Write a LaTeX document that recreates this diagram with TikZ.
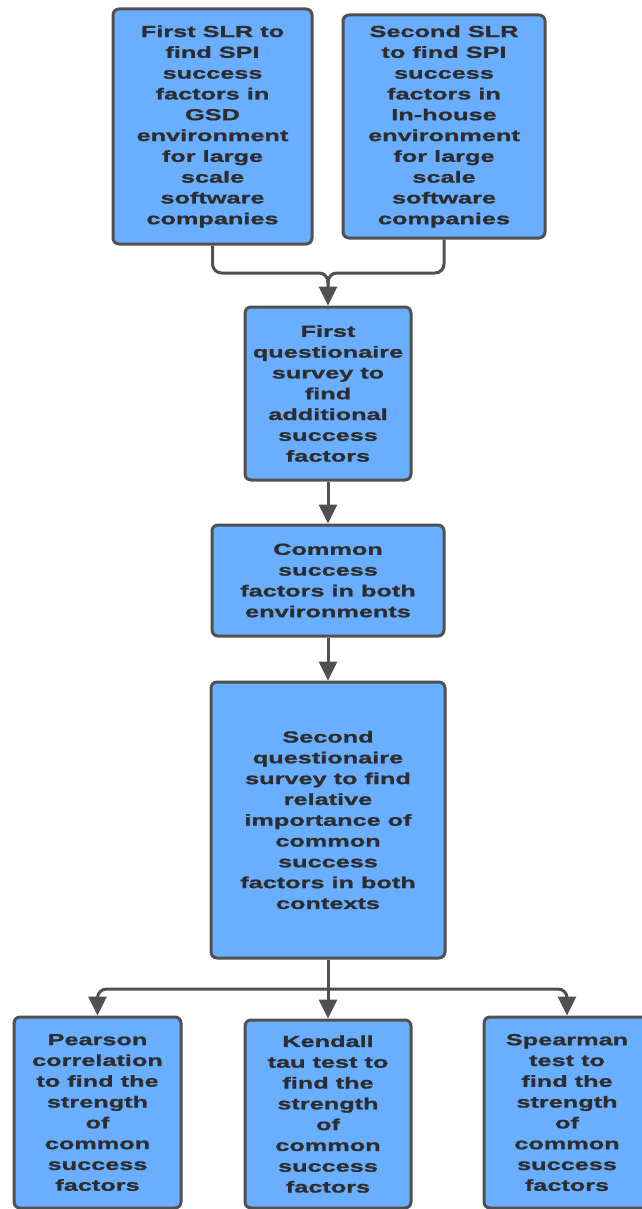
\documentclass[tikz,border=0pt]{standalone}
\usepackage{fontspec}
\setmainfont{Liberation Sans}[FakeStretch=1.58,FakeBold=1.2]
\usetikzlibrary{positioning,arrows.meta,calc}
\definecolor{boxfill}{RGB}{106,174,255}
\definecolor{boxline}{RGB}{80,80,80}
\definecolor{boxtext}{RGB}{45,45,45}

\begin{document}
\begin{tikzpicture}[
  x=1pt, y=1pt,
  >={Triangle[length=19pt,width=18pt]},
  line width=3pt,
  stage/.style={rectangle, rounded corners=6pt, draw=boxline, fill=boxfill, text=boxtext, align=center, inner sep=2pt, font=\fontsize{16}{20.8}\selectfont\bfseries},
  flow_line/.style={draw=boxline, rounded corners=9pt}
]
\useasboundingbox (0,0) rectangle (641,-1209);

% --- Revisoes sistematicas ---
\node[stage, minimum width=199pt, minimum height=235pt] (slr_gsd) at (212.5,-126.5)
  {First SLR to\\find SPI\\success\\factors in\\GSD\\environment\\for large\\scale\\software\\companies};
\node[stage, minimum width=202pt, minimum height=223pt] (slr_inhouse) at (444,-126.5)
  {Second SLR\\to find SPI\\success\\factors in\\In-house\\environment\\for large\\scale\\software\\companies};

% --- Questionarios ---
\node[stage, minimum width=166pt, minimum height=173pt] (survey_one) at (328,-393.5)
  {First\\questionaire\\survey to\\find\\additional\\success\\factors};
\node[stage, minimum width=232pt, minimum height=111pt] (common) at (328,-580.5)
  {Common\\success\\factors in both\\environments};
\node[stage, minimum width=234pt, minimum height=276pt] (survey_two) at (328,-820)
  {Second\\questionaire\\survey to find\\relative\\importance of\\common\\success\\factors in both\\contexts};

% --- Testes estatisticos ---
\node[stage, minimum width=167pt, minimum height=191pt] (pearson) at (97.5,-1112.5)
  {Pearson\\correlation\\to find the\\strength\\of\\common\\success\\factors};
\node[stage, minimum width=166pt, minimum height=188pt] (kendall) at (328,-1114)
  {Kendall\\tau test to\\find the\\strength\\of\\common\\success\\factors};
\node[stage, minimum width=166pt, minimum height=191pt] (spearman) at (567,-1112.5)
  {Spearman\\test to\\find the\\strength\\of\\common\\success\\factors};

% --- Conexoes ---
\coordinate (join) at (328,-273);
\coordinate (fork) at (328,-989);
\draw[flow_line, ->] (slr_gsd.south) |- (join) -- (survey_one.north);
\draw[flow_line] (slr_inhouse.south) |- (join) -- ($(join)+(0,-12)$);
\draw[flow_line, ->] (survey_one) -- (common);
\draw[flow_line, ->] (common) -- (survey_two);
\draw[flow_line, ->] (survey_two.south) -- (kendall.north);
\draw[flow_line, ->] (fork) -| (pearson.north);
\draw[flow_line, ->] (fork) -| (spearman.north);

\end{tikzpicture}
\end{document}
